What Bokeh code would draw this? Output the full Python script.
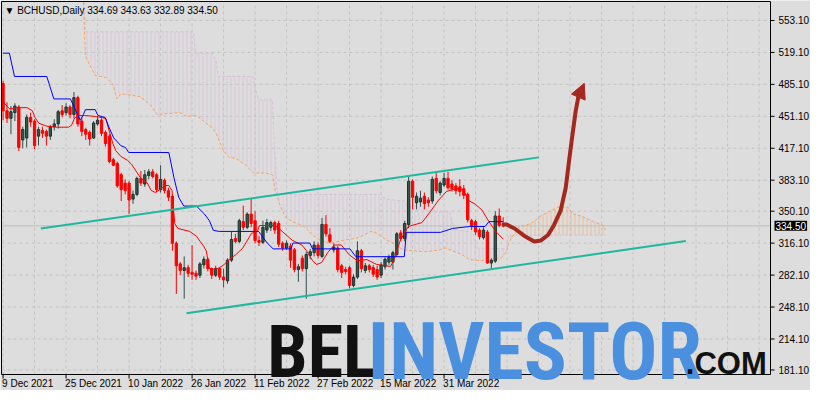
from bokeh.plotting import figure
from bokeh.models import Label, Arrow, NormalHead, ColumnDataSource
from bokeh.embed import file_html
from bokeh.resources import INLINE

symbol = "BCHUSD,Daily"

# ---------------- daily OHLC (bar 0 = 9 Dec 2021) ----------------
opens = [486, 457, 449, 455, 461, 426, 428, 450, 446, 430,
         436, 435, 430, 440, 443, 457, 455, 461, 453, 471,
         446, 437, 434, 428, 443, 447, 434, 430, 405, 401,
         389, 380, 380, 363, 368, 385, 379, 388, 392, 389,
         373, 383, 372, 366, 316, 294, 287, 290, 285, 284,
         282, 293, 299, 289, 282, 289, 280, 276, 298, 321,
         318, 339, 333, 347, 340, 319, 317, 330, 333, 338,
         337, 316, 311, 313, 309, 288, 300, 289, 303, 306,
         314, 302, 336, 325, 309, 311, 292, 288, 290, 271,
         280, 308, 287, 292, 290, 288, 282, 291, 296, 296,
         304, 327, 321, 336, 382, 359, 360, 366, 362, 361,
         385, 370, 378, 385, 379, 377, 376, 374, 368, 340,
         339, 330, 322, 328, 295, 297, 345, 334.69]
highs = [489, 466, 462, 465, 463, 440, 453, 455, 448, 440,
         440, 437, 442, 448, 458, 463, 465, 463, 477, 473,
         450, 439, 436, 446, 451, 449, 436, 432, 407, 403,
         391, 384, 382, 372, 387, 393, 394, 395, 395, 391,
         399, 385, 375, 368, 318, 296, 302, 293, 314, 287,
         296, 302, 301, 290, 292, 290, 289, 300, 328, 326,
         342, 356, 349, 364, 350, 324, 340, 342, 340, 340,
         340, 318, 319, 316, 311, 294, 303, 307, 310, 318,
         317, 343, 346, 332, 316, 313, 294, 291, 292, 283,
         318, 310, 295, 294, 293, 292, 296, 301, 304, 308,
         328, 330, 340, 387, 384, 370, 372, 370, 365, 387,
         391, 382, 391, 392, 383, 380, 384, 378, 370, 342,
         341, 332, 333, 330, 300, 350, 353, 343.63]
lows = [447, 444, 432, 446, 414, 417, 418, 440, 416, 420,
        428, 420, 426, 436, 438, 450, 452, 449, 449, 440,
        430, 426, 420, 427, 441, 430, 419, 401, 398, 375,
        361, 368, 347, 358, 366, 377, 376, 384, 385, 370,
        370, 369, 361, 308, 262, 282, 257, 280, 277, 277,
        279, 289, 286, 278, 280, 277, 269, 273, 296, 316,
        316, 330, 331, 333, 316, 313, 315, 327, 329, 326,
        312, 308, 309, 290, 285, 275, 286, 257, 299, 302,
        300, 300, 323, 316, 306, 285, 279, 283, 268, 269,
        278, 285, 284, 285, 280, 277, 279, 288, 293, 288,
        302, 318, 318, 332, 352, 352, 355, 352, 355, 358,
        369, 367, 376, 373, 371, 368, 366, 363, 338, 330,
        325, 320, 320, 294, 288, 295, 333, 332.89]
closes = [457, 449, 456, 462, 418, 437, 450, 445, 420, 437,
          433, 430, 440, 443, 456, 453, 461, 453, 471, 443,
          435, 432, 427, 444, 447, 433, 422, 403, 399, 377,
          373, 372, 362, 368, 385, 380, 389, 392, 387, 373,
          384, 372, 365, 316, 292, 287, 290, 284, 283, 281,
          294, 299, 289, 282, 289, 280, 277, 298, 320, 318,
          340, 333, 347, 337, 319, 317, 333, 338, 338, 330,
          315, 311, 316, 298, 288, 291, 289, 304, 307, 314,
          303, 336, 326, 318, 312, 288, 285, 286, 271, 280,
          308, 289, 292, 288, 283, 280, 293, 299, 301, 306,
          326, 321, 337, 382, 365, 366, 364, 358, 359, 384,
          372, 380, 385, 375, 374, 372, 371, 367, 341, 334,
          328, 323, 330, 295, 298, 345, 335, 334.50]
bars = list(range(len(closes)))

# ---------------- Ichimoku lines (bar index, price) ----------------
tenkan_bar = [0, 1.6, 3.6, 6.1, 7.4, 8.1, 9.1, 11.1, 13.6, 16.6, 17.4, 18.1, 19.1, 20.6,
              23.4, 26.1, 26.6, 27.9, 28.6, 29.9, 31.6, 32.6, 34.9, 36.6, 37.6, 38.6,
              39.9, 41.1, 42.1, 42.9, 43.6, 44.4, 47.4, 49.1, 50.9, 51.6, 52.4, 54.1,
              55.9, 57.4, 59.1, 60.9, 63.1, 64.6, 65.1, 69.1, 70.9, 73.4, 75.9, 77.1,
              78.6, 79.6, 80.9, 82.4, 84.1, 85.9, 87.9, 89.9, 92.4, 94.9, 98.4, 99.4,
              100.9, 102.9, 106.4, 108.1, 110.6, 112.6, 115.1, 116.9, 118.1, 119.9,
              121.6, 123.4, 125.1, 127]
tenkan_val = [466.5, 459.2, 460.3, 460.3, 457.2, 449.9, 443.7, 440.6, 439.5, 439.5, 441.6,
              448.9, 452.0, 452.0, 451.0, 448.9, 440.6, 422.0, 414.7, 408.5, 404.3, 400.2,
              385.6, 380.4, 372.2, 370.1, 373.2, 377.4, 377.4, 372.2, 336.9, 331.7, 328.6,
              323.5, 313.1, 307.9, 289.2, 288.2, 292.4, 298.6, 303.8, 311.0, 326.6, 328.6,
              334.9, 334.9, 328.6, 319.3, 314.1, 307.9, 297.5, 293.4, 295.5, 305.8, 314.1,
              314.1, 303.8, 297.5, 298.6, 293.4, 291.3, 299.6, 319.3, 333.8, 338.0, 347.3,
              361.8, 371.1, 374.2, 373.2, 361.8, 357.6, 351.4, 339.0, 328.6, 320.5]

kijun_bar = [0, 1.6, 2.9, 11.1, 12.9, 17.1, 19.6, 20.4, 20.9, 23.4, 24.1, 25.9, 27.1,
             28.1, 29.9, 31.1, 31.9, 42.1, 43.4, 44.6, 45.9, 49.1, 51.1, 52.4, 53.4,
             54.9, 64.9, 67.1, 68.6, 73.1, 73.6, 77.9, 78.6, 88.1, 89.6, 101.9, 102.4,
             111.1, 114.1, 118.4, 122.4, 123.4, 127]
kijun_val = [518.3, 518.3, 493.5, 493.5, 469.6, 469.6, 446.8, 453.0, 458.2, 458.2, 452.0,
             449.9, 437.5, 428.1, 419.9, 417.8, 412.6, 412.6, 385.7, 364.9, 355.6, 355.6,
             347.3, 340.0, 329.7, 328.6, 328.6, 316.2, 310.0, 310.0, 316.2, 316.2, 310.0,
             310.0, 301.7, 301.7, 327.6, 327.6, 331.7, 333.8, 333.8, 339.0, 339.0]

spanA_bar = [20.4, 20.6, 20.9, 22.1, 23.4, 26.1, 27.9, 28.6, 28.9, 29.9, 32.4, 34.9, 37.4,
             39.1, 44.9, 46.6, 49.1, 51.6, 52.9, 54.1, 55.9, 57.4, 59.1, 61.6, 63.6,
             66.6, 68.4, 69.1, 70.4, 71.6, 73.4, 75.9, 77.1, 78.6, 80.9, 83.4, 86.6,
             89.9, 91.6, 93.4, 94.9, 97.4, 99.1, 101.6, 104.1, 107.4, 110.9, 112.4,
             114.1, 116.6, 118.4, 120.9, 124.1, 126.6, 127.9, 128.4, 129.1, 131.1,
             134.1, 136.6, 139.1, 140.9, 143.4, 144.6, 146.6, 148.4, 149.9, 152.4, 153]
spanA_val = [573.0, 549.4, 515.2, 504.9, 494.5, 492.4, 485.2, 473.8, 469.6, 474.8, 473.8,
             471.7, 463.4, 453.0, 455.1, 451.0, 452.0, 443.7, 439.6, 433.3, 414.7, 407.4,
             406.4, 399.1, 390.8, 390.8, 388.8, 372.2, 355.6, 344.2, 339.0, 334.9, 331.7,
             324.5, 318.3, 316.2, 319.3, 321.4, 324.5, 328.6, 326.6, 319.3, 316.2, 308.9,
             307.9, 306.9, 308.9, 311.0, 307.9, 303.8, 298.6, 297.5, 297.5, 300.6, 307.9,
             316.2, 321.4, 333.8, 336.9, 345.2, 350.4, 354.5, 354.5, 347.3, 345.2, 342.1,
             339.0, 334.9, 330.2]

spanB_bar = [20.6, 20.9, 48.4, 48.9, 53.1, 54.1, 54.6, 63.4, 64.1, 64.9, 68.4, 68.9, 69.4,
             69.6, 96.1, 97.1, 102.1, 102.6, 108.4, 109.1, 113.4, 114.6, 119.4, 120.1,
             127.9, 128.4, 153]
spanB_val = [573.0, 541.1, 541.1, 518.3, 518.3, 510.0, 493.5, 493.5, 480.0, 468.6, 468.6,
             419.9, 390.8, 368.0, 368.0, 362.8, 360.8, 355.6, 355.6, 349.4, 349.4, 329.7,
             328.6, 311.0, 310.0, 324.5, 324.5]

# ---------------- drawn trend channel and forecast ----------------
upper_channel_bar = [9.6, 136.1]
upper_channel_val = [331.8, 407.4]
lower_channel_bar = [46.6, 173.4]
lower_channel_val = [241.6, 318.3]
forecast_bar = [127.1, 127.9, 129.9, 132.4, 134.9, 136.6, 138.4, 139.9, 141.6, 142.9,
                143.6, 144.4, 145.4, 146.1, 147.6]
forecast_val = [335.9, 335.9, 331.7, 323.8, 317.9, 319.0, 324.8, 335.2, 350.7, 375.0,
                399.1, 425.0, 456.1, 471.7, 486.2]

# ---------------- axes ----------------
y_ticks = [181.1, 214.1, 248.1, 282.1, 316.1, 350.1, 383.1, 417.1, 451.1, 485.1, 519.1, 553.1]
date_ticks = [0, 16, 32, 48, 64, 80, 96, 112]
date_labels = ["9 Dec 2021", "25 Dec 2021", "10 Jan 2022", "26 Jan 2022",
               "11 Feb 2022", "27 Feb 2022", "15 Mar 2022", "31 Mar 2022"]
grid_ticks = list(range(0, 200, 8))
x_lo, x_hi = -0.4, 194.9
y_lo, y_hi = 176.3, 573.3

# ---------------- layout: the plot box inside an axis-free canvas ----------------
W, H = 810, 390
IL, IT, IR, IB = 1, 1, 770, 374
ppx = (IR - IL) / (x_hi - x_lo)
ppy = (IB - IT) / (y_hi - y_lo)
X0, X1 = x_lo - IL / ppx, x_hi + (W - IR) / ppx
Y0, Y1 = y_lo - (H - IB) / ppy, y_hi + IT / ppy

BG = "#DDDDDD"
FONT = "Liberation Sans"
BULL_FILL, BULL_LINE, BULL_WICK = "#2F5E4E", "#1C302B", "#2F4F4F"
BEAR = "#FF0000"
ARROW = "#A5281F"
THISTLE = "#D8BFD8"
SANDY = "#F4A460"
GRID = "#C3C3C3"

p = figure(width=W, height=H, x_range=(X0, X1), y_range=(Y0, Y1),
           x_axis_location=None, y_axis_location=None, toolbar_location=None,
           output_backend="svg", background_fill_color=BG, border_fill_color=BG,
           min_border=0)
p.outline_line_color = None
p.xgrid.visible = False
p.ygrid.visible = False

# grid
p.segment(x0=grid_ticks, y0=[y_lo] * len(grid_ticks), x1=grid_ticks, y1=[y_hi] * len(grid_ticks),
          line_color=GRID, line_width=1, line_dash="3 3")
p.segment(x0=[x_lo] * len(y_ticks), y0=y_ticks, x1=[x_hi] * len(y_ticks), y1=y_ticks,
          line_color=GRID, line_width=1, line_dash="3 3")

# ---------------- cloud ----------------
split = 128.4
c1x = [b for b in spanA_bar if b <= split] + [b for b in reversed(spanB_bar) if b <= split]
c1y = ([v for b, v in zip(spanA_bar, spanA_val) if b <= split] +
       [v for b, v in zip(reversed(spanB_bar), reversed(spanB_val)) if b <= split])
c2x = [b for b in spanA_bar if b >= split] + [b for b in reversed(spanB_bar) if b >= split]
c2y = ([v for b, v in zip(spanA_bar, spanA_val) if b >= split] +
       [v for b, v in zip(reversed(spanB_bar), reversed(spanB_val)) if b >= split])
p.patch(c1x, c1y, fill_alpha=0, line_alpha=0, hatch_pattern="vertical_line",
        hatch_color=THISTLE, hatch_scale=4, hatch_weight=1, hatch_alpha=0.75)
p.patch(c2x, c2y, fill_alpha=0, line_alpha=0, hatch_pattern="vertical_line",
        hatch_color=SANDY, hatch_scale=4, hatch_weight=1, hatch_alpha=0.55)
p.line(spanB_bar, spanB_val, line_color=THISTLE, line_width=1, line_dash="3 2")
p.line(spanA_bar, spanA_val, line_color=SANDY, line_width=1, line_dash="3 2")

# last price line
p.segment(x0=[x_lo], y0=[closes[-1]], x1=[x_hi], y1=[closes[-1]], line_color="#BDBDBD", line_width=1)

# ---------------- candles ----------------
up = [c >= o for o, c in zip(opens, closes)]
src = ColumnDataSource(dict(
    x=bars, h=highs, l=lows,
    top=[max(o, c) for o, c in zip(opens, closes)],
    bottom=[min(o, c) for o, c in zip(opens, closes)],
    fill=[BULL_FILL if u else BEAR for u in up],
    edge=[BULL_LINE if u else BEAR for u in up],
    wick=[BULL_WICK if u else BEAR for u in up],
))
p.segment(x0="x", y0="h", x1="x", y1="l", source=src, line_color="wick", line_width=1)
p.vbar(x="x", width=0.58, top="top", bottom="bottom", source=src,
       fill_color="fill", line_color="edge", line_width=1)

# ---------------- Ichimoku tenkan / kijun ----------------
p.line(tenkan_bar, tenkan_val, line_color="#FF0000", line_width=1)
p.line(kijun_bar, kijun_val, line_color="#0000FF", line_width=1)

# ---------------- channel and forecast ----------------
TEAL = "#1FB89E"
p.line(upper_channel_bar, upper_channel_val, line_color=TEAL, line_width=2)
p.line(lower_channel_bar, lower_channel_val, line_color=TEAL, line_width=2)
p.line(forecast_bar[:-1], forecast_val[:-1], line_color=ARROW, line_width=4,
       line_cap="round", line_join="round")
p.add_layout(Arrow(end=NormalHead(size=15, fill_color=ARROW, line_color=ARROW),
                   x_start=forecast_bar[-2], y_start=forecast_val[-2],
                   x_end=forecast_bar[-1], y_end=forecast_val[-1],
                   line_color=ARROW, line_width=4))

# ---------------- plot box border and axis ticks ----------------
p.quad(left=[x_lo], right=[x_hi], bottom=[y_lo], top=[y_hi], fill_alpha=0,
       line_color="black", line_width=1)
tick_dx = 4 / ppx
tick_dy = 4 / ppy
p.segment(x0=[x_hi] * len(y_ticks), y0=y_ticks, x1=[x_hi + tick_dx] * len(y_ticks), y1=y_ticks,
          line_color="black", line_width=1)
p.segment(x0=date_ticks, y0=[y_lo] * len(date_ticks), x1=date_ticks,
          y1=[y_lo - tick_dy] * len(date_ticks), line_color="black", line_width=1)

# ---------------- watermark (behind the axis texts) ----------------
NARROW = "Roboto Condensed, Liberation Sans Narrow, DejaVu Sans Condensed, Liberation Sans"
p.add_layout(Label(x=67.1, y=200.0, text="BEL", text_font=NARROW, text_font_style="bold",
                   text_font_size="72px", text_color="#111111", text_baseline="alphabetic",
                   text_align="left"))
p.add_layout(Label(x=92.6, y=200.0, text="INVESTOR", text_font=NARROW, text_font_style="bold",
                   text_font_size="80px", text_color="#4A90DF", text_baseline="alphabetic",
                   text_align="left"))
p.add_layout(Label(x=173.4, y=188.0, text=".COM", text_font=FONT, text_font_style="bold",
                   text_font_size="31px", text_color="#111111", text_baseline="alphabetic",
                   text_align="left"))

# ---------------- texts ----------------
for t in y_ticks:
    p.add_layout(Label(x=x_hi, y=t, x_offset=8, text="{:.2f}".format(t), text_font=FONT,
                       text_font_size="10px", text_color="black", text_baseline="middle",
                       text_align="left"))
for t, lab in zip(date_ticks, date_labels):
    p.add_layout(Label(x=t, y=y_lo, x_offset=-1, y_offset=-3, text=lab, text_font=FONT,
                       text_font_size="10px", text_color="black", text_baseline="top",
                       text_align="left"))

header = "\u25BC {}  {:.2f} {:.2f} {:.2f} {:.2f}".format(symbol, opens[-1], highs[-1], lows[-1], closes[-1])
p.add_layout(Label(x=x_lo, y=y_hi, x_offset=3, y_offset=-3, text=header, text_font=FONT,
                   text_font_size="10px", text_color="black", text_baseline="top",
                   text_align="left"))

p.add_layout(Label(x=x_hi, y=closes[-1], x_offset=4, text="{:.2f}".format(closes[-1]),
                   text_font=FONT, text_font_size="10px", text_color="white",
                   text_baseline="middle", text_align="left",
                   background_fill_color="black", padding=1))

open("out.html", "w").write(file_html(p, INLINE))
